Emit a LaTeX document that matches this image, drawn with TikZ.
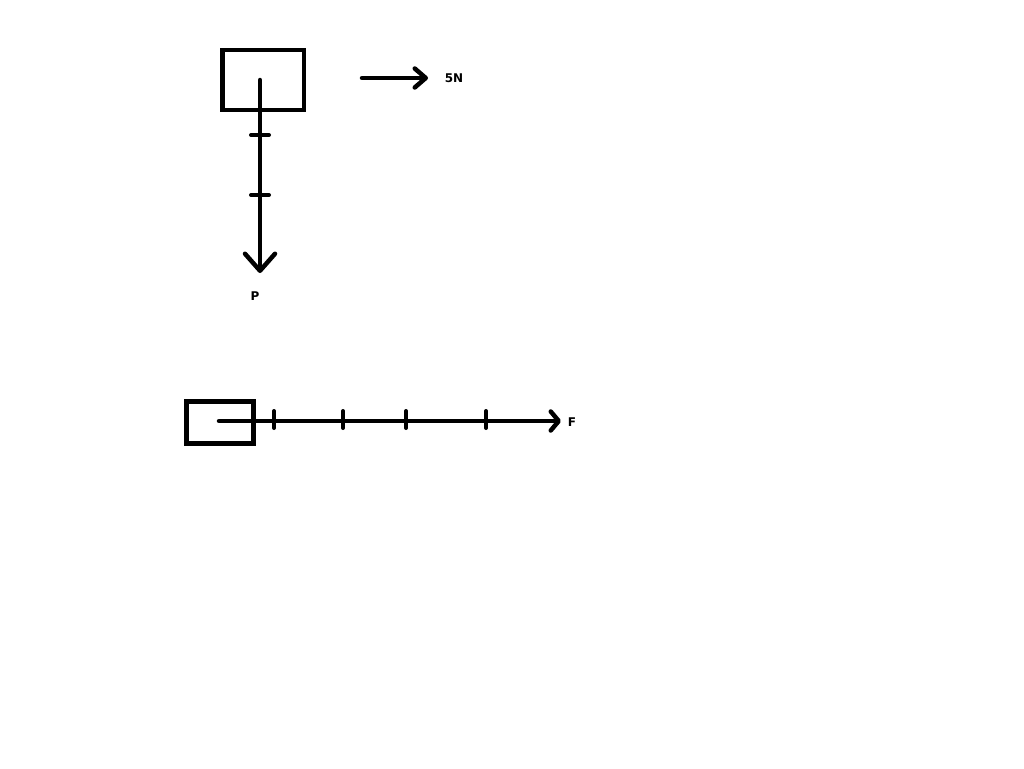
\documentclass[tikz,border=0pt]{standalone}
\usepackage{fontspec}
\setsansfont{DejaVu Sans}
\usetikzlibrary{arrows.meta}

\begin{document}
\begin{tikzpicture}[x=1pt, y=-1pt, line width=4.5pt,
	body/.style={draw, line width=4.5pt, inner sep=0pt},
	force/.style={line cap=round},
	tickmark/.style={line width=4pt, line cap=round},
	lbl/.style={font=\sffamily\bfseries\fontsize{12}{14}\selectfont}]
	\useasboundingbox (0,0) rectangle (1024,768);
	% upper body: weight and 5N
	\node[body, minimum width=81.5pt, minimum height=60pt] (blkA) at (263.25,80) {};
	\coordinate (pTail) at (260,80);
	\coordinate (pTip) at (260,273);
	\draw[force, -{Straight Barb[length=17pt, width=30pt, round]}] (pTail)--(pTip);
	\foreach \y in {135,195} \draw[tickmark] (251,\y)--(269,\y);
	\node[lbl] (labP) at (255,296) {P};
	\coordinate (sTail) at (362,78);
	\coordinate (sTip) at (428,78);
	\draw[force, -{Straight Barb[length=11pt, width=19pt, round]}] (sTail)--(sTip);
	\node[lbl] (labS) at (454,78) {5N};
	% lower body: F
	\node[body, minimum width=67pt, minimum height=42pt] (blkB) at (220,422.5) {};
	\coordinate (fTail) at (219,421);
	\coordinate (fTip) at (561,421);
	\draw[force, -{Straight Barb[length=8pt, width=19pt, round]}] (fTail)--(fTip);
	\foreach \x in {274,343,406,486} \draw[tickmark] (\x,411)--(\x,428);
	\node[lbl] (labF) at (572,422) {F};
\end{tikzpicture}
\end{document}
